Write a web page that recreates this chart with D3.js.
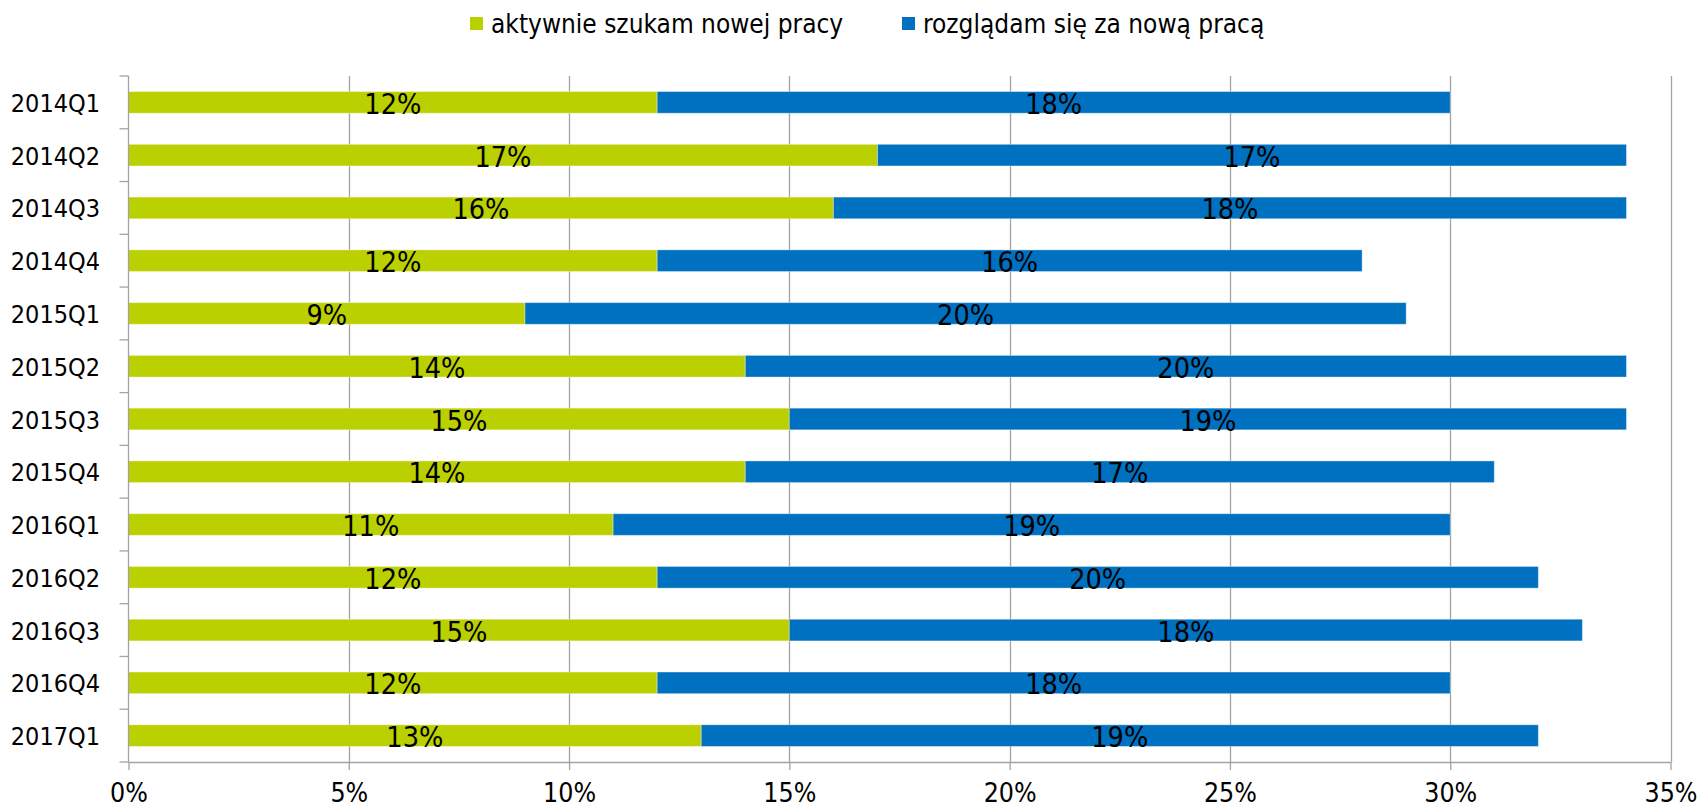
<!DOCTYPE html>
<html><head><meta charset="utf-8">
<script src="https://cdn.jsdelivr.net/npm/d3@7"></script>
<style>
body{margin:0;background:#fff;}
text{font-family:'DejaVu Sans Condensed','DejaVu Sans',sans-serif;font-stretch:condensed;fill:#000;}
</style>
</head><body>
<svg id="c" width="1702" height="807"></svg>
<script>
const categories = ["2014Q1","2014Q2","2014Q3","2014Q4","2015Q1","2015Q2","2015Q3","2015Q4","2016Q1","2016Q2","2016Q3","2016Q4","2017Q1"];
const activeValues = [12,17,16,12,9,14,15,14,11,12,15,12,13];
const lookingValues = [18,17,18,16,20,20,19,17,19,20,18,18,19];
const xTicks = [0,5,10,15,20,25,30,35];
const seriesNames = ["aktywnie szukam nowej pracy","rozglądam się za nową pracą"];
const seriesColors = ["#BBD000","#0070C0"];

(function(){
const svg = d3.select("#c");
const pLeft = 128.5, pRight = 1670.5, pTop = 76, pBottom = 762;
const grid = "#a3a3a3";

const x = d3.scaleLinear().domain([0,35]).range([pLeft,pRight]);
const y = d3.scaleBand().domain(categories).range([pTop,pBottom]).paddingInner(0.59).paddingOuter(0.295);

// gridlines
svg.append("g").selectAll("line").data(xTicks.filter(d=>d>0)).join("line")
  .attr("x1",d=>Math.round(x(d))+0.5).attr("x2",d=>Math.round(x(d))+0.5)
  .attr("y1",pTop).attr("y2",pBottom)
  .attr("stroke",grid).attr("stroke-width",1.3);

// stacked data
const rows = categories.map((c,i)=>({cat:c, a:activeValues[i], b:lookingValues[i]}));
const stack = d3.stack().keys(["a","b"])(rows);

const gBars = svg.append("g");
stack.forEach((layer,li)=>{
  gBars.append("g").selectAll("rect").data(layer).join("rect")
    .attr("x",d=>x(d[0])).attr("width",d=>x(d[1])-x(d[0]))
    .attr("y",d=>y(d.data.cat)).attr("height",y.bandwidth())
    .attr("fill",seriesColors[li])
    .attr("stroke","#ffffff").attr("stroke-opacity",0.35).attr("stroke-width",1);
});

// data labels
stack.forEach((layer,li)=>{
  svg.append("g").selectAll("text").data(layer).join("text")
    .attr("x",d=>x((d[0]+d[1])/2))
    .attr("y",d=>y(d.data.cat)+y.bandwidth()/2+2)
    .attr("text-anchor","middle").attr("dominant-baseline","central")
    .style("font-size","28.5px")
    .text(d=>(d[1]-d[0])+"%");
});

// y axis
const step = y.step();
const gy = svg.append("g");
gy.append("line").attr("x1",pLeft).attr("x2",pLeft).attr("y1",pTop).attr("y2",pBottom)
  .attr("stroke",grid).attr("stroke-width",1.3);
gy.selectAll("line.tk").data(d3.range(categories.length+1)).join("line").attr("class","tk")
  .attr("x1",pLeft-9).attr("x2",pLeft)
  .attr("y1",i=>pTop+i*step).attr("y2",i=>pTop+i*step)
  .attr("stroke",grid).attr("stroke-width",1.3);
gy.selectAll("text").data(categories).join("text")
  .attr("x",100).attr("y",d=>y(d)+y.bandwidth()/2+1)
  .attr("text-anchor","end").attr("dominant-baseline","central")
  .style("font-size","25px")
  .text(d=>d);

// x axis
const xAxis = d3.axisBottom(x).tickValues(xTicks).tickFormat(d=>d+"%").tickSize(8).tickSizeOuter(0).tickPadding(13);
const gx = svg.append("g").attr("transform",`translate(0,${pBottom})`).call(xAxis);
gx.select(".domain").attr("stroke",grid).attr("stroke-width",1.3);
gx.selectAll(".tick line").attr("stroke",grid).attr("stroke-width",1.3);
gx.selectAll(".tick text").style("font-size","26.5px").attr("fill","#000")
  .style("font-family","'DejaVu Sans Condensed','DejaVu Sans',sans-serif");

// legend
const legendX = [470, 902];
const lg = svg.append("g");
seriesNames.forEach((n,i)=>{
  lg.append("rect").attr("x",legendX[i]).attr("y",17).attr("width",13).attr("height",13).attr("fill",seriesColors[i]);
  lg.append("text").attr("x",legendX[i]+21).attr("y",32.5).style("font-size","26px").text(n);
});
})();
</script>
</body></html>
